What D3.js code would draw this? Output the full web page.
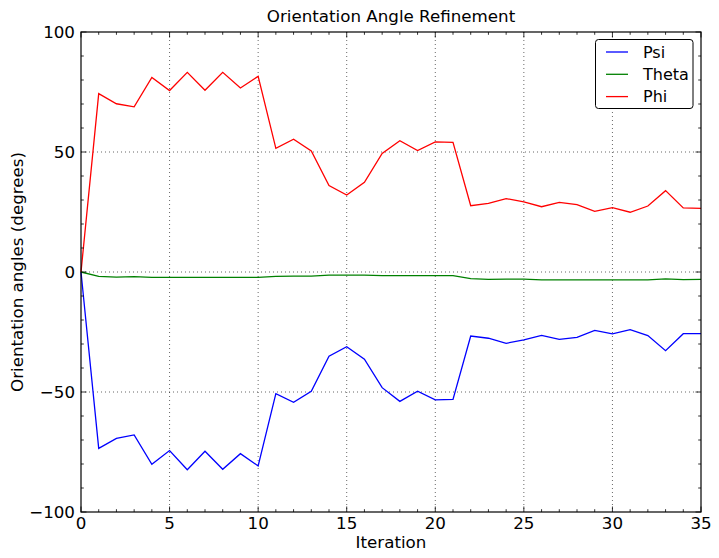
<!DOCTYPE html>
<html><head><meta charset="utf-8">
<script src="https://cdn.jsdelivr.net/npm/d3@7"></script>
<style>body{margin:0;background:#fff}svg{display:block}text{font-family:"DejaVu Sans",sans-serif;fill:#000}</style>
</head><body><div id="chart"></div>
<script>
const iterations = d3.range(0, 36);
const psi = [0,-73.5,-69.3,-67.9,-80.1,-74.4,-82.4,-74.7,-82.2,-75.7,-80.8,-50.7,-54.3,-49.7,-35.1,-31.1,-36.3,-48.2,-53.9,-49.7,-53.3,-53.1,-26.7,-27.6,-29.7,-28.3,-26.4,-28.1,-27.2,-24.3,-25.8,-24.0,-26.5,-32.8,-25.7,-25.7];
const theta = [0,-1.8,-2.1,-1.9,-2.2,-2.2,-2.2,-2.2,-2.2,-2.2,-2.2,-1.8,-1.7,-1.7,-1.3,-1.3,-1.3,-1.5,-1.5,-1.5,-1.5,-1.5,-2.8,-3.1,-3.0,-3.0,-3.3,-3.3,-3.3,-3.3,-3.3,-3.3,-3.3,-2.9,-3.2,-3.1];
const phi = [0,74.3,70.1,68.8,81.1,75.6,83.2,75.7,83.2,76.7,81.5,51.5,55.3,50.4,36.0,32.1,37.4,49.4,54.7,50.6,54.2,54.0,27.6,28.6,30.6,29.2,27.2,29.0,28.1,25.3,26.8,24.9,27.5,33.9,26.7,26.5];
const seriesNames = ["Psi","Theta","Phi"];
const seriesColors = ["#0000ff","#008000","#ff0000"];
const xTicks = [0,5,10,15,20,25,30,35];
const yTicks = [-100,-50,0,50,100];
const title = "Orientation Angle Refinement";
const xLabel = "Iteration";
const yLabel = "Orientation angles (degrees)";

const W = 719, H = 558;
const m = {l:81, r:18, t:32, b:46};
const svg = d3.select("#chart").append("svg").attr("width",W).attr("height",H);
const x = d3.scaleLinear().domain([0,35]).range([m.l, W-m.r]);
const y = d3.scaleLinear().domain([-100,100]).range([H-m.b, m.t]);
const x0 = m.l, x1 = W-m.r, y0 = H-m.b, y1 = m.t;

// grid
const g = svg.append("g");
xTicks.forEach(v => { if (v>0 && v<35) g.append("line").attr("x1",x(v)).attr("x2",x(v)).attr("y1",y1).attr("y2",y0)
  .attr("stroke","#000").attr("stroke-width",0.6).attr("stroke-dasharray","1,3"); });
yTicks.forEach(v => { if (v>-100 && v<100) g.append("line").attr("x1",x0).attr("x2",x1).attr("y1",y(v)).attr("y2",y(v))
  .attr("stroke","#000").attr("stroke-width",0.6).attr("stroke-dasharray","1,3"); });

// lines
const series = [psi, theta, phi];
const line = d3.line().x((d,i)=>x(iterations[i])).y(d=>y(d));
series.forEach((s,k)=>{
  svg.append("path").datum(s).attr("d",line).attr("fill","none").attr("stroke",seriesColors[k]).attr("stroke-width",1.3);
});

// ticks (inside, all sides)
const tk = svg.append("g").attr("stroke","#000").attr("stroke-width",0.8);
d3.range(0,36).forEach(v=>{
  const L = (v%5===0)?5.5:2.8;
  tk.append("line").attr("x1",x(v)).attr("x2",x(v)).attr("y1",y0).attr("y2",y0-L);
  tk.append("line").attr("x1",x(v)).attr("x2",x(v)).attr("y1",y1).attr("y2",y1+L);
});
d3.range(-100,101,10).forEach(v=>{
  const L = (v%50===0)?5.5:2.8;
  tk.append("line").attr("y1",y(v)).attr("y2",y(v)).attr("x1",x0).attr("x2",x0+L);
  tk.append("line").attr("y1",y(v)).attr("y2",y(v)).attr("x1",x1).attr("x2",x1-L);
});

// frame
svg.append("rect").attr("x",x0).attr("y",y1).attr("width",x1-x0).attr("height",y0-y1)
  .attr("fill","none").attr("stroke","#000").attr("stroke-width",1.2);

// tick labels
const fs = 16.7;
xTicks.forEach(v=>svg.append("text").attr("x",x(v)).attr("y",y0+17).attr("text-anchor","middle")
  .attr("font-size",fs).text(v));
yTicks.forEach(v=>svg.append("text").attr("x",x0-6).attr("y",y(v)+6).attr("text-anchor","end")
  .attr("font-size",fs).text(v<0?"\u2212"+Math.abs(v):v));

// labels
svg.append("text").attr("x",(x0+x1)/2).attr("y",22).attr("text-anchor","middle").attr("font-size",16.7).text(title);
svg.append("text").attr("x",(x0+x1)/2).attr("y",548).attr("text-anchor","middle").attr("font-size",16.7).text(xLabel);
svg.append("text").attr("transform",`translate(23,${(y0+y1)/2}) rotate(-90)`).attr("text-anchor","middle").attr("font-size",16.7).text(yLabel);

// legend
const lg = svg.append("g");
lg.append("rect").attr("x",595.5).attr("y",39.5).attr("width",97.5).attr("height",69).attr("rx",3)
  .attr("fill","#fff").attr("stroke","#000").attr("stroke-width",1);
seriesNames.forEach((n,k)=>{
  const yy = 52 + k*22.3;
  lg.append("line").attr("x1",606).attr("x2",628).attr("y1",yy).attr("y2",yy).attr("stroke",seriesColors[k]).attr("stroke-width",1.3);
  lg.append("text").attr("x",643).attr("y",yy+5.5).attr("font-size",16).text(n);
});
</script></body></html>
